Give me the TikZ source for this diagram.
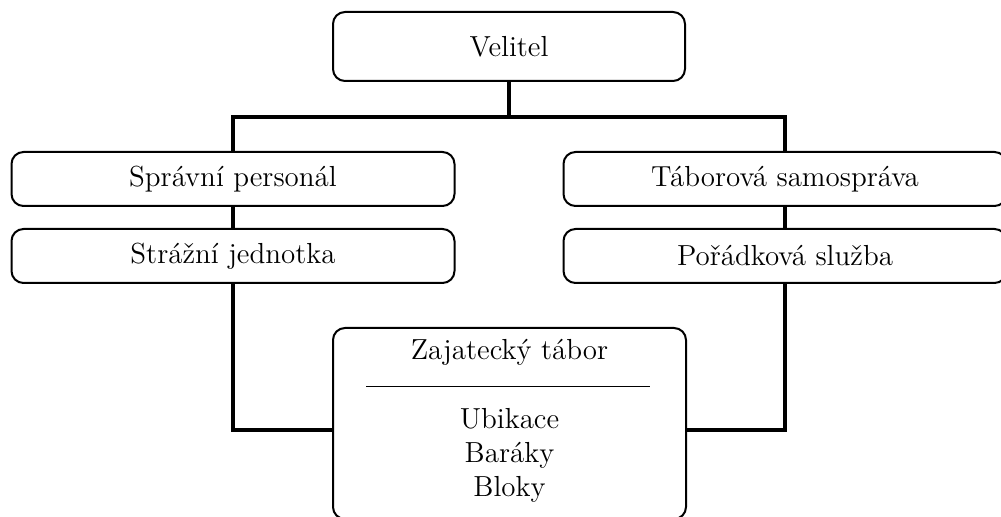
\documentclass[tikz,border=0pt]{standalone}
\usepackage{tikz}
\usetikzlibrary{positioning}

\begin{document}
\begin{tikzpicture}[x=0.5pt,y=-0.5pt,
		every node/.style={
			align=center,
			font=\fontsize{14.5}{17}\selectfont,
			inner sep=1pt,
		},
		unit/.style={draw, rounded corners=6pt, line width=1pt, fill=white,
			minimum width=221.5pt, minimum height=27pt},
		conn/.style={line width=2.3pt},
		]

		\useasboundingbox (0,0) rectangle (1001,517);

		\node (velitel) [unit, minimum width=176pt, minimum height=34.5pt] at (509,46.5) {Velitel};
		\node (spravni) [unit] at (233,179) {Správní personál};
		\node (strazni) [unit] at (233,256) {Strážní jednotka};
		\node (taborova) [unit] at (785,179) {Táborová samospráva};
		\node (poradkova) [unit] at (785,256) {Pořádková služba};
		\node (tabor) [unit, minimum width=176.5pt, minimum height=95.5pt] at (509.5,423.5) {};
		\node (nazev) at (509.5,352) {Zajatecký tábor};
		\node (cleneni) at (509.5,455) {Ubikace\\Baráky\\Bloky};
		\draw[line width=0.5pt] (366,387) -- (650,387);

		\coordinate (jl) at (233,117);
		\coordinate (jr) at (785,117);
		\coordinate (bl) at (233,430);
		\coordinate (br) at (785,430);

		\draw[conn] (velitel) -- (velitel |- jl);
		\draw[conn, line cap=rect] (jl) -- (jr);
		\draw[conn] (jl) -- (spravni);
		\draw[conn] (jr) -- (taborova);
		\draw[conn] (spravni) -- (strazni);
		\draw[conn] (taborova) -- (poradkova);
		\draw[conn, line cap=rect] (strazni) -- (bl) -- (bl -| tabor.west);
		\draw[conn, line cap=rect] (poradkova) -- (br) -- (br -| tabor.east);

	\end{tikzpicture}
\end{document}
